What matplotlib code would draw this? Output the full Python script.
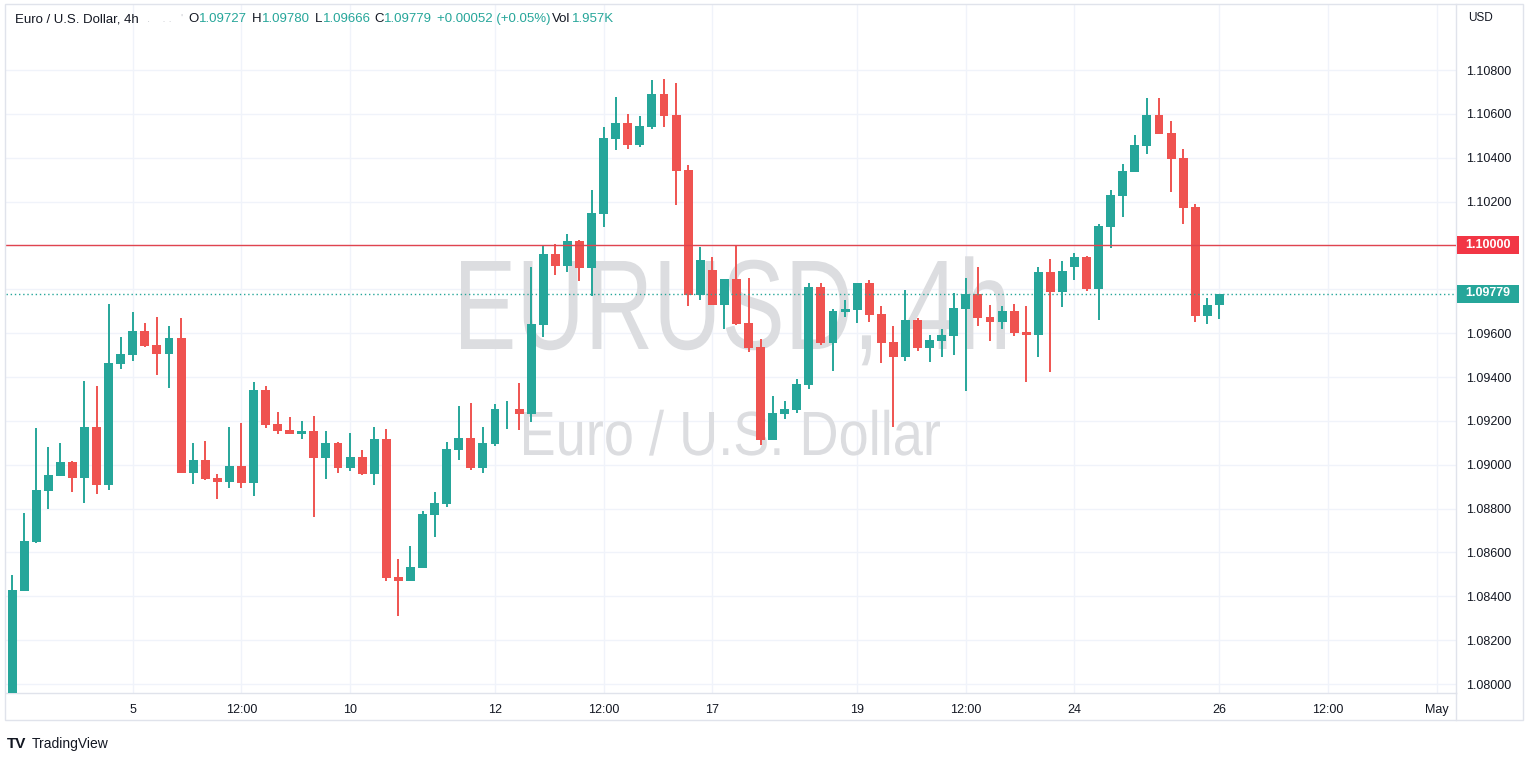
import numpy as np
import matplotlib
matplotlib.use("Agg")
import matplotlib.pyplot as plt
from matplotlib.patches import Rectangle, PathPatch
from matplotlib.textpath import TextPath
from matplotlib.font_manager import FontProperties
from matplotlib.transforms import Affine2D

# 4h candles, Apr 3 08:00 -> Apr 26 00:00 (index = bar number)
opens = [1.07960, 1.08426, 1.08648, 1.08882, 1.08949, 1.09012, 1.08940, 1.09172, 1.08908, 1.09459,
         1.09500, 1.09610, 1.09546, 1.09505, 1.09578, 1.08962, 1.09022, 1.08940, 1.08921, 1.08994,
         1.08917, 1.09341, 1.09186, 1.09158, 1.09140, 1.09154, 1.09031, 1.09099, 1.08985, 1.09035,
         1.08958, 1.09117, 1.08488, 1.08470, 1.08529, 1.08771, 1.08821, 1.09067, 1.09122, 1.08985,
         1.09095, 1.09252, 1.09254, 1.09231, 1.09637, 1.09961, 1.09906, 1.10020, 1.09897, 1.10143,
         1.10485, 1.10558, 1.10458, 1.10540, 1.10691, 1.10595, 1.10344, 1.09774, 1.09888, 1.09728,
         1.09847, 1.09646, 1.09537, 1.09113, 1.09231, 1.09250, 1.09364, 1.09810, 1.09555, 1.09696,
         1.09706, 1.09829, 1.09687, 1.09560, 1.09491, 1.09660, 1.09532, 1.09564, 1.09587, 1.09710,
         1.09779, 1.09674, 1.09651, 1.09701, 1.09605, 1.09592, 1.09879, 1.09788, 1.09902, 1.09947,
         1.09801, 1.10084, 1.10225, 1.10335, 1.10453, 1.10595, 1.10513, 1.10399, 1.10175, 1.09678,
         1.09727]
highs = [1.08497, 1.08780, 1.09168, 1.09081, 1.09099, 1.09017, 1.09382, 1.09359, 1.09733, 1.09582,
         1.09696, 1.09646, 1.09674, 1.09633, 1.09669, 1.09099, 1.09108, 1.08958, 1.09172, 1.09190,
         1.09377, 1.09359, 1.09240, 1.09218, 1.09199, 1.09222, 1.09154, 1.09104, 1.09145, 1.09067,
         1.09172, 1.09163, 1.08570, 1.08629, 1.08789, 1.08876, 1.09104, 1.09268, 1.09282, 1.09172,
         1.09277, 1.09291, 1.09373, 1.09902, 1.10002, 1.10007, 1.10052, 1.10025, 1.10253, 1.10540,
         1.10677, 1.10599, 1.10590, 1.10754, 1.10759, 1.10741, 1.10367, 1.09993, 1.09947, 1.09847,
         1.10002, 1.09852, 1.09573, 1.09313, 1.09291, 1.09391, 1.09829, 1.09829, 1.09710, 1.09751,
         1.09829, 1.09842, 1.09724, 1.09633, 1.09797, 1.09669, 1.09592, 1.09619, 1.09783, 1.09852,
         1.09902, 1.09728, 1.09724, 1.09733, 1.09724, 1.09902, 1.09938, 1.09929, 1.09966, 1.09952,
         1.10098, 1.10253, 1.10371, 1.10504, 1.10672, 1.10672, 1.10567, 1.10440, 1.10189, 1.09760,
         1.09780]
lows = [1.07920, 1.08426, 1.08643, 1.08798, 1.08949, 1.08876, 1.08826, 1.08867, 1.08885, 1.09437,
        1.09473, 1.09537, 1.09409, 1.09350, 1.08962, 1.08912, 1.08930, 1.08844, 1.08894, 1.08894,
        1.08857, 1.09168, 1.09140, 1.09140, 1.09117, 1.08762, 1.08935, 1.08962, 1.08971, 1.08953,
        1.08908, 1.08470, 1.08310, 1.08470, 1.08529, 1.08670, 1.08807, 1.09022, 1.08976, 1.08962,
        1.09085, 1.09163, 1.09158, 1.09195, 1.09582, 1.09865, 1.09879, 1.09838, 1.09769, 1.10084,
        1.10435, 1.10440, 1.10449, 1.10531, 1.10540, 1.10184, 1.09724, 1.09751, 1.09728, 1.09619,
        1.09637, 1.09514, 1.09090, 1.09113, 1.09209, 1.09236, 1.09345, 1.09546, 1.09427, 1.09674,
        1.09646, 1.09651, 1.09464, 1.09172, 1.09473, 1.09519, 1.09468, 1.09491, 1.09500, 1.09336,
        1.09633, 1.09564, 1.09619, 1.09587, 1.09377, 1.09491, 1.09423, 1.09719, 1.09842, 1.09792,
        1.09660, 1.09988, 1.10130, 1.10335, 1.10417, 1.10508, 1.10244, 1.10098, 1.09651, 1.09642,
        1.09666]
closes = [1.08429, 1.08652, 1.08885, 1.08953, 1.09012, 1.08940, 1.09172, 1.08908, 1.09464, 1.09505,
          1.09610, 1.09541, 1.09505, 1.09578, 1.08962, 1.09022, 1.08935, 1.08921, 1.08994, 1.08917,
          1.09341, 1.09181, 1.09154, 1.09140, 1.09154, 1.09031, 1.09099, 1.08985, 1.09035, 1.08958,
          1.09117, 1.08484, 1.08470, 1.08534, 1.08775, 1.08826, 1.09072, 1.09122, 1.08985, 1.09099,
          1.09254, 1.09256, 1.09231, 1.09642, 1.09961, 1.09906, 1.10020, 1.09897, 1.10148, 1.10490,
          1.10558, 1.10458, 1.10545, 1.10691, 1.10590, 1.10339, 1.09774, 1.09934, 1.09728, 1.09847,
          1.09642, 1.09532, 1.09113, 1.09236, 1.09254, 1.09368, 1.09810, 1.09555, 1.09701, 1.09710,
          1.09829, 1.09683, 1.09555, 1.09491, 1.09660, 1.09532, 1.09569, 1.09592, 1.09715, 1.09779,
          1.09669, 1.09651, 1.09701, 1.09601, 1.09592, 1.09879, 1.09788, 1.09883, 1.09947, 1.09801,
          1.10089, 1.10230, 1.10339, 1.10458, 1.10595, 1.10508, 1.10394, 1.10171, 1.09678, 1.09728,
          1.09779]

tick_pos = [10, 19, 28, 40, 49, 58, 70, 79, 88, 100, 109, 118]
tick_lbl = ['5', '12:00', '10', '12', '12:00', '17', '19', '12:00', '24', '26', '12:00', 'May']
price_ticks = [1.080, 1.082, 1.084, 1.086, 1.088, 1.090, 1.092, 1.094, 1.096, 1.098,
               1.100, 1.102, 1.104, 1.106, 1.108]
alert_level = 1.10000

UP = '#26a69a'
DN = '#ef5350'
TXT = '#131722'
plt.rcParams['font.family'] = ['Liberation Sans', 'DejaVu Sans']

W, H = 1534, 763
fig = plt.figure(figsize=(W / 100, H / 100), dpi=100)
fig.patch.set_facecolor('white')

# plot pane in pixels: x 6..1456, y 4..693
ax = fig.add_axes([6 / W, 1 - 693 / H, 1450 / W, 689 / H])

o = np.array(opens)
h = np.array(highs)
l = np.array(lows)
c = np.array(closes)
idx = np.arange(len(o))
cols = np.where(c >= o, UP, DN)

ax.vlines(idx, l, h, colors=cols, lw=1.4, zorder=3)
body_lo = np.minimum(o, c)
body_h = np.maximum(np.abs(c - o), 0.00003)
ax.bar(idx, body_h, bottom=body_lo, width=0.74, color=cols, zorder=4, linewidth=0)


# watermark, squeezed to the reference's narrow lettering
def watermark(text, x0, x1, cap_top, base):
    fp = FontProperties(family='Liberation Sans')
    tp = TextPath((0, 0), text, size=100, prop=fp)
    cap = TextPath((0, 0), 'E', size=100, prop=fp).get_extents().height
    ext = tp.get_extents()
    sx = (x1 - x0) / ext.width
    sy = (base - cap_top) / cap
    tr = Affine2D().translate(-ext.x0, 0).scale(sx, sy).translate(x0, H - base)
    ax.add_patch(PathPatch(tp, transform=tr, fc='#dcdde0', ec='none', zorder=1))


watermark('EURUSD, 4h', 461, 1005, 261, 349)
watermark('Euro / U.S. Dollar', 524, 940, 412, 455)

ax.set_xlim(-0.5, 119.6)
ax.set_ylim(1.07959, 1.11101)

# lines
ax.axhline(alert_level, color='#e0444e', lw=1.0, zorder=5)
ax.axhline(closes[-1], color=UP, lw=1.0, ls=(0, (1, 2)), zorder=5)

# axes / grid
ax.set_xticks(tick_pos)
ax.set_xticklabels(tick_lbl)
ax.set_yticks(price_ticks)
# labels under the two price boxes are hidden on the scale
ax.set_yticklabels(['' if v in (1.098, 1.100) else '%.5f' % v for v in price_ticks])
ax.yaxis.tick_right()
ax.tick_params(axis='both', length=0, labelsize=9, colors=TXT)
ax.tick_params(axis='y', pad=7.5)
ax.tick_params(axis='x', pad=8)
for lab in ax.get_yticklabels():
    lab.set_horizontalalignment('left')
ax.grid(True, color='#f0f3fa', lw=1.0, zorder=0)
ax.set_axisbelow(True)
for s in ['top', 'left']:
    ax.spines[s].set_visible(False)
for s in ['right', 'bottom']:
    ax.spines[s].set_color('#e0e3eb')
    ax.spines[s].set_linewidth(1.0)

# outer frame and right separator
fig.add_artist(Rectangle((5 / W, 1 - 720 / H), 1518 / W, 716 / H, transform=fig.transFigure,
                         fill=False, edgecolor='#e0e3eb', lw=1.0))
fig.add_artist(plt.Line2D([1456 / W, 1456 / W], [1 - 720 / H, 1 - 693 / H],
                          transform=fig.transFigure, color='#e0e3eb', lw=1.0))


# price labels on the scale
def price_box(val, y_px, bg):
    fig.add_artist(Rectangle((1457 / W, 1 - (y_px + 9) / H), 62 / W, 18 / H,
                             transform=fig.transFigure, fc=bg, ec='none'))
    fig.text(1488 / W, 1 - y_px / H, '%.5f' % val, ha='center', va='center', fontsize=9,
             color='white', fontweight='bold')


price_box(alert_level, 245, '#f23645')
price_box(closes[-1], 293.5, UP)

fig.text(1468 / W, 1 - 18 / H, 'USD', fontsize=8.5, color=TXT, ha='left', va='center')

# header legend
yh = 1 - 19 / H
fig.text(15 / W, yh, 'Euro / U.S. Dollar, 4h', fontsize=9.5, color=TXT, va='center')
fig.text(147 / W, yh, '.    . .   \'', fontsize=8, color='#c8cad0', va='center')
parts = [(188, 'O', TXT), (199, '%.5f' % opens[-1], UP),
         (252, 'H', TXT), (262, '%.5f' % highs[-1], UP),
         (315, 'L', TXT), (323, '%.5f' % lows[-1], UP),
         (374, 'C', TXT), (384, '%.5f' % closes[-1], UP),
         (437, '+0.00052 (+0.05%)', UP),
         (552, 'Vol', TXT), (572, '1.957K', UP)]
for xp, s, col in parts:
    fig.text(xp / W, yh, s, fontsize=9.5, color=col, va='center')

# footer
fig.text(7 / W, 1 - 744 / H, 'TV', fontsize=11, fontweight='heavy', color=TXT, va='center')
fig.text(32 / W, 1 - 744 / H, 'TradingView', fontsize=10, color=TXT, va='center')

fig.savefig('out.png', dpi=100, facecolor='white')
